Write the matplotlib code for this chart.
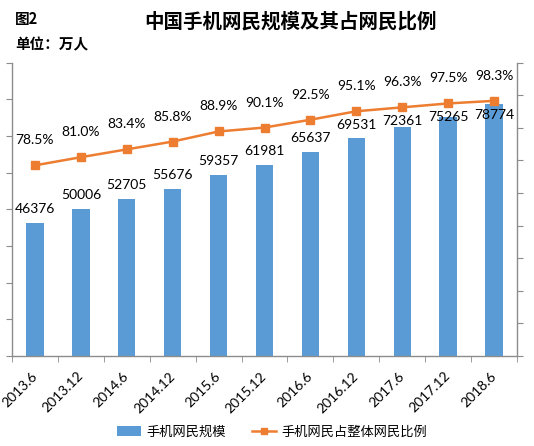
import matplotlib
matplotlib.use("Agg")
import matplotlib.pyplot as plt
from matplotlib.lines import Line2D
from matplotlib.patches import Patch

# data
periods = ["2013.6", "2013.12", "2014.6", "2014.12", "2015.6", "2015.12",
           "2016.6", "2016.12", "2017.6", "2017.12", "2018.6"]
mobile_users = [46376, 50006, 52705, 55676, 59357, 61981,
                65637, 69531, 72361, 75265, 78774]
mobile_share = [78.5, 81.0, 83.4, 85.8, 88.9, 90.1,
                92.5, 95.1, 96.3, 97.5, 98.3]

BLUE = "#5B9BD5"
ORANGE = "#ED7D31"
GREY = "#8C8C8C"
CJK = ["Noto Sans CJK SC", "DejaVu Sans"]
NUM = ["Lato", "DejaVu Sans"]

W, H = 534, 446
fig = plt.figure(figsize=(W / 100, H / 100), dpi=100)
ax = fig.add_axes([12 / W, 1 - 356 / H, (517 - 12) / W, (356 - 62.7) / H])
ax2 = ax.twinx()

x = list(range(len(periods)))
ax.bar(x, mobile_users, width=0.38, color=BLUE, zorder=2)
ax2.plot(x, mobile_share, color=ORANGE, lw=1.8, marker="s", ms=5.5, zorder=3)

ax.set_xlim(-0.5, len(periods) - 0.5)
ax.set_ylim(10000, 90000)
ax.set_yticks(range(10000, 90001, 10000))
ax2.set_ylim(20, 110)
ax2.set_yticks(range(20, 111, 10))

ax.tick_params(axis="y", labelleft=False, length=4, color=GREY)
ax2.tick_params(axis="y", labelright=False, length=4, color=GREY)

ax.set_xticks(x)
ax.set_xticklabels(periods, rotation=45, ha="right", va="center",
                   rotation_mode="anchor", family=NUM, fontsize=10)
ax.tick_params(axis="x", which="major", length=0, pad=13)
ax.set_xticks([i - 0.5 for i in range(len(periods) + 1)], minor=True)
ax.tick_params(axis="x", which="minor", length=4, color=GREY)

for name in ["top", "right"]:
    ax.spines[name].set_visible(False)
for name in ["top", "left", "bottom"]:
    ax2.spines[name].set_visible(False)
for sp in [ax.spines["left"], ax.spines["bottom"], ax2.spines["right"]]:
    sp.set_color(GREY)
    sp.set_linewidth(1.0)

# bar value labels: above the bar, but kept below the line marker if they would collide
for i, (v, p) in enumerate(zip(mobile_users, mobile_share)):
    bar_top = ax.transData.transform((i, v))[1]
    mark = ax2.transData.transform((i, p))[1]
    y_disp = min(bar_top + 14, mark - 14)
    yd = ax.transData.inverted().transform((0, y_disp))[1]
    ax.text(i, yd, f"{v}", ha="center", va="center", family=NUM, fontsize=10, zorder=4)

for i, p in enumerate(mobile_share):
    ax2.annotate(f"{p:.1f}%", (i, p), xytext=(0, 18), textcoords="offset points",
                 ha="center", va="center", family=NUM, fontsize=10)

fig.text(291 / W, 1 - 22 / H, "中国手机网民规模及其占网民比例", ha="center", va="center",
         family=CJK, fontsize=14, fontweight="bold")
fig.text(15 / W, 1 - 19 / H, "图2", ha="left", va="center",
         family=CJK, fontsize=10.5, fontweight="bold")
fig.text(15 / W, 1 - 44 / H, "单位：万人", ha="left", va="center",
         family=CJK, fontsize=10.5, fontweight="bold")

handles = [Patch(facecolor=BLUE, edgecolor="none"),
           Line2D([], [], color=ORANGE, lw=1.8, marker="s", ms=5)]
fig.legend(handles, ["手机网民规模", "手机网民占整体网民比例"], loc="center",
           bbox_to_anchor=(272 / W, 1 - 432 / H), ncol=2, frameon=False,
           prop={"family": CJK, "size": 9.5}, handlelength=1.8,
           handletextpad=0.4, columnspacing=2.0)

fig.savefig("out.png", dpi=100)
